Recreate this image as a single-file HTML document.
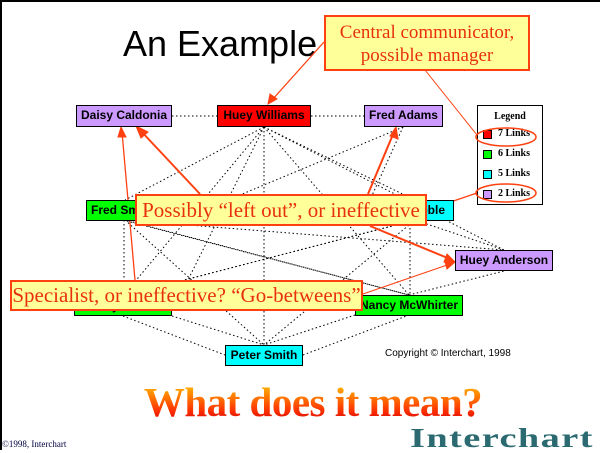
<!DOCTYPE html>
<html><head><meta charset="utf-8"><style>
*{margin:0;padding:0;box-sizing:border-box}
body{width:600px;height:450px;position:relative;background:#fff;overflow:hidden;font-family:"Liberation Sans",sans-serif}
.frame{position:absolute;left:0;top:0;width:600px;height:450px;border-top:2px solid #000;border-left:2px solid #000}
.n{position:absolute;border:1px solid #000;font-weight:bold;font-size:12px;line-height:19px;text-align:center;white-space:nowrap;overflow:hidden}
.c{position:absolute;background:#ffff99;border:2px solid #ff4010;color:#e83010;font-family:"Liberation Serif",serif;text-align:center;white-space:nowrap}
svg{position:absolute;left:0;top:0}
</style></head><body>
<div class="frame"></div>
<div style="position:absolute;left:123px;top:22px;font-size:36px;line-height:44px;color:#000">An Example</div>
<svg width="600" height="450">
<g stroke="#000" stroke-width="1" stroke-dasharray="1.5,2.5" fill="none">
<line x1="172" y1="116" x2="218" y2="116"/><line x1="311" y1="116" x2="364" y2="116"/>
<line x1="264" y1="127" x2="125" y2="200"/><line x1="264" y1="127" x2="415" y2="200"/>
<line x1="264" y1="127" x2="123" y2="296"/><line x1="264" y1="127" x2="409" y2="295"/>
<line x1="264" y1="127" x2="264" y2="345"/><line x1="264" y1="127" x2="504" y2="250"/>
<line x1="264" y1="127" x2="180" y2="296"/>
<line x1="403" y1="127" x2="370" y2="200"/><line x1="403" y1="127" x2="180" y2="220"/>
<line x1="125" y1="220" x2="409" y2="295"/><line x1="125" y1="220" x2="264" y2="345"/>
<line x1="125" y1="220" x2="504" y2="250"/><line x1="124" y1="220" x2="124" y2="296"/>
<line x1="415" y1="220" x2="123" y2="296"/><line x1="415" y1="220" x2="264" y2="345"/>
<line x1="410" y1="220" x2="410" y2="295"/><line x1="415" y1="220" x2="504" y2="250"/>
<line x1="123" y1="220" x2="409" y2="295"/>
<line x1="123" y1="316" x2="225" y2="355"/><line x1="303" y1="355" x2="409" y2="315"/>
<line x1="409" y1="295" x2="504" y2="271"/><line x1="123" y1="296" x2="415" y2="220"/>
<line x1="172" y1="316" x2="264" y2="345"/><line x1="355" y1="315" x2="264" y2="345"/>
</g>
<g stroke="#ff4010" fill="#ff4010">
<line x1="324" y1="42" x2="272" y2="100" stroke-width="1.3"/><polygon points="268,104 270,94 277,99"/>
<line x1="425" y1="70" x2="477" y2="135" stroke-width="1"/>
<line x1="200" y1="194" x2="140" y2="130" stroke-width="2"/><polygon points="136,126 148,132 141,138"/>
<line x1="368" y1="194" x2="394" y2="132" stroke-width="2"/><polygon points="396,127 398,139 390,136"/>
<line x1="370" y1="226" x2="450" y2="259" stroke-width="2"/><polygon points="455,262 444,262 447,254"/>
<line x1="427" y1="210" x2="477" y2="193" stroke-width="1.3"/>
<line x1="135" y1="280" x2="122" y2="132" stroke-width="1.3"/><polygon points="121,127 126,137 118,137"/>
<line x1="363" y1="294" x2="450" y2="264" stroke-width="1"/><polygon points="455,262 447,269 445,262"/>
</g>
</svg>
<div class="n" style="left:76px;top:105px;width:96px;height:22px;background:#cc99ff">Daisy Caldonia</div>
<div class="n" style="left:217px;top:105px;width:94px;height:22px;background:#ff0000">Huey Williams</div>
<div class="n" style="left:364px;top:105px;width:79px;height:22px;background:#cc99ff">Fred Adams</div>
<div class="n" style="left:86px;top:200px;width:80px;height:21px;background:#00ff00;text-align:left;padding-left:4px">Fred Smith</div>
<div class="n" style="left:370px;top:200px;width:84px;height:21px;background:#00ffff">Jerry Noble</div>
<div class="n" style="left:455px;top:250px;width:98px;height:21px;background:#cc99ff">Huey Anderson</div>
<div class="n" style="left:74px;top:296px;width:98px;height:20px;background:#00ff00">Mary Smith</div>
<div class="n" style="left:355px;top:295px;width:108px;height:21px;background:#00ff00">Nancy McWhirter</div>
<div class="n" style="left:225px;top:345px;width:78px;height:21px;background:#00ffff">Peter Smith</div>
<div style="position:absolute;left:385px;top:348px;font-size:10px">Copyright © Interchart, 1998</div>
<div style="position:absolute;left:477px;top:105px;width:66px;height:100px;border:1px solid #000;background:#fff;font-family:'Liberation Serif',serif;font-weight:bold;font-size:10px">
<div style="position:absolute;left:0;width:64px;top:5px;text-align:center">Legend</div>
<div style="position:absolute;left:5px;top:24px;width:9px;height:9px;background:#f00;border:1px solid #000"></div><div style="position:absolute;left:20px;top:22px">7 Links</div>
<div style="position:absolute;left:5px;top:44px;width:9px;height:9px;background:#0f0;border:1px solid #000"></div><div style="position:absolute;left:20px;top:42px">6 Links</div>
<div style="position:absolute;left:5px;top:64px;width:9px;height:9px;background:#0ff;border:1px solid #000"></div><div style="position:absolute;left:20px;top:62px">5 Links</div>
<div style="position:absolute;left:5px;top:84px;width:9px;height:9px;background:#c9f;border:1px solid #000"></div><div style="position:absolute;left:20px;top:82px">2 Links</div>
</div>
<svg width="600" height="450"><g fill="none" stroke="#ff4010" stroke-width="1.5">
<ellipse cx="506" cy="137" rx="30" ry="9"/><ellipse cx="506" cy="193" rx="30" ry="9"/></g></svg>
<div class="c" style="left:324px;top:15px;width:206px;height:56px;font-size:19px;line-height:23px;padding-top:4px">Central communicator,<br>possible manager</div>
<div class="c" style="left:135px;top:194px;width:292px;height:32px;font-size:21px;line-height:28px">Possibly “left out”, or ineffective</div>
<div class="c" style="left:10px;top:280px;width:353px;height:31px;font-size:21px;line-height:27px">Specialist, or ineffective? “Go-betweens”</div>
<div style="position:absolute;left:130px;top:381px;width:366px;text-align:center;font-family:'Liberation Serif',serif;font-weight:bold;font-size:41px;line-height:42px;letter-spacing:-0.5px;color:#e83010;background:linear-gradient(#ffcc00,#ff3300 70%,#cc0000);-webkit-background-clip:text;background-clip:text;-webkit-text-fill-color:transparent">What does it mean?</div>
<div style="position:absolute;left:410px;top:424px;width:190px;font-family:'Liberation Serif',serif;font-weight:bold;font-size:27px;line-height:28px;letter-spacing:1px;color:#2a6a70;transform:scaleX(1.42);transform-origin:left">Interchart</div>
<div style="position:absolute;left:2px;top:439px;font-family:'Liberation Serif',serif;font-size:9px;color:#000040">©1998, Interchart</div>
</body></html>
